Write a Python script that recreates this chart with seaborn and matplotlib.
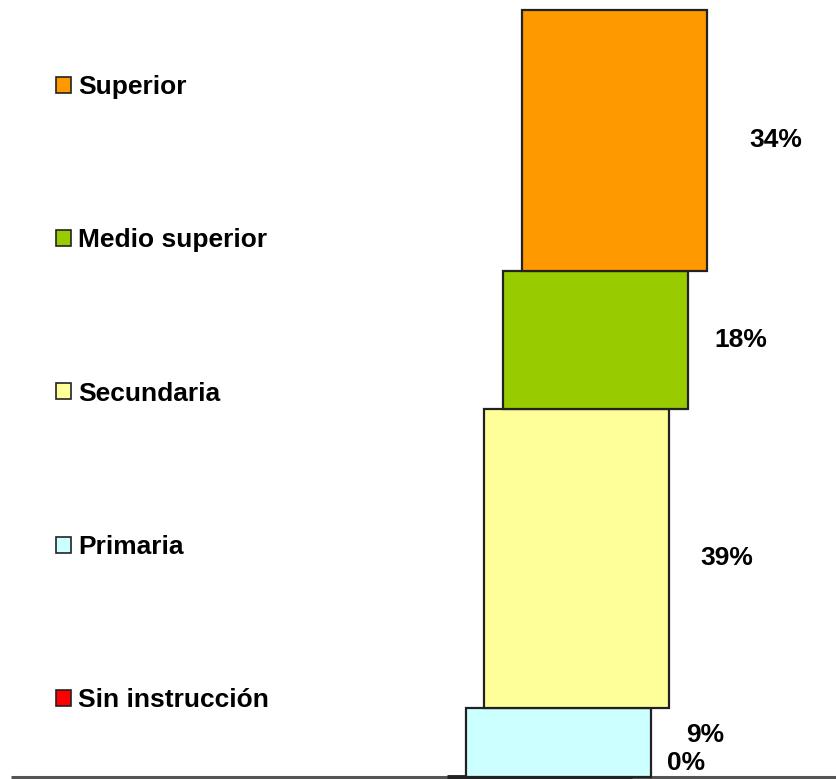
import matplotlib
matplotlib.use("Agg")
import matplotlib.pyplot as plt
from matplotlib.patches import Patch
import seaborn as sns

# ── Data ───────────────────────────────────────────────────────────────────────
levels = ["Sin instrucción", "Primaria", "Secundaria", "Medio superior", "Superior"]
shares = [0, 9, 39, 18, 34]
labels = ["0%", "9%", "39%", "18%", "34%"]
colors = ["#FF0000", "#CCFFFF", "#FFFF99", "#99CC00", "#FF9900"]

# ── Layout (pixel-like x units, percent y units) ───────────────────────────────
W, H = 837, 779
BASE_X, DEPTH, BAR_W = 447, 18.75, 185
LABEL_DX = [54, 54, 57, 53, 69]
LABEL_DY = [1.8, 1.0, 0, 0, 0]

sns.set_theme(style="white")
plt.rcParams["font.family"] = ["Liberation Sans", "DejaVu Sans"]

fig = plt.figure(figsize=(W / 100, H / 100), dpi=100)
ax = fig.add_axes([0, 0, 1, 1])
ax.set_xlim(0, W)
px = 767 / 100
ax.set_ylim(-2 / px, 777 / px)
ax.axis("off")

bottom = 0
for i, (lvl, val, lab, col) in enumerate(zip(levels, shares, labels, colors)):
    left = BASE_X + i * DEPTH
    ax.bar(left, val, width=BAR_W, bottom=bottom, align="edge", color=col,
           edgecolor="#222222", linewidth=1.6 if val else 3.5, zorder=3)
    ax.text(left + BAR_W + LABEL_DX[i], bottom + val / 2 + LABEL_DY[i], lab,
            ha="center", va="center", fontsize=19, fontweight="bold",
            color="black", zorder=5)
    bottom += val

# baseline
ax.plot([11, W], [0, 0], color="#555555", linewidth=2.2, zorder=2,
        solid_capstyle="butt")

handles = [Patch(facecolor=c, edgecolor="#222222", linewidth=1.2)
           for c in colors[::-1]]
leg = fig.legend(handles, levels[::-1], loc="upper left",
                 bbox_to_anchor=(56 / W, 1 - 75 / H), frameon=False,
                 borderpad=0, borderaxespad=0, handlelength=0.55,
                 handleheight=0.55, handletextpad=0.3, labelspacing=4.9,
                 prop={"size": 19, "weight": "bold"})
for t in leg.get_texts():
    t.set_color("black")

fig.savefig("out.png", dpi=100, facecolor="white")
